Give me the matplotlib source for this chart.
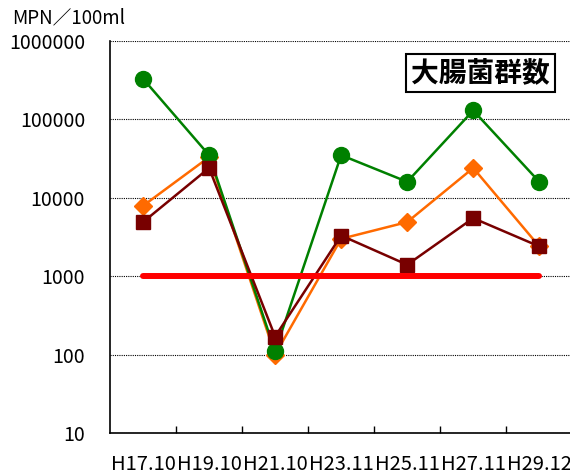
import matplotlib.pyplot as plt
from matplotlib.ticker import FixedLocator, NullFormatter

plt.rcParams['font.family'] = ['Noto Sans CJK JP', 'DejaVu Sans']

categories = ["H17.10", "H19.10", "H21.10", "H23.11", "H25.11", "H27.11", "H29.12"]
green_vals = [330000, 35000, 110, 35000, 16000, 130000, 16000]
orange_vals = [7900, 33000, 100, 3000, 4900, 24000, 2400]
darkred_vals = [4900, 24000, 170, 3300, 1400, 5500, 2400]
standard = [1000, 1000]
yticks = [10, 100, 1000, 10000, 100000, 1000000]

fig = plt.figure(figsize=(5.7, 4.76), dpi=100)
ax = fig.add_axes([0.193, 0.0903, 0.811, 0.8236])

x = list(range(len(categories)))
ax.plot(x, orange_vals, color="#ff6a00", linewidth=1.8, marker="D", markersize=9.5, zorder=3)
ax.plot(x, green_vals, color="#008000", linewidth=1.8, marker="o", markersize=11.5, zorder=4)
ax.plot(x, darkred_vals, color="#780000", linewidth=1.8, marker="s", markersize=10, zorder=5)
ax.plot([x[0], x[-1]], standard, color="#ff0000", linewidth=4.3, solid_capstyle="round", zorder=6)

ax.set_yscale("log")
ax.set_ylim(10, 1000000)
ax.set_xlim(-0.5, len(categories) - 0.5)
ax.yaxis.set_major_locator(FixedLocator(yticks))
ax.set_yticklabels([str(v) for v in yticks], fontsize=14)
ax.yaxis.set_minor_locator(FixedLocator([]))
ax.tick_params(axis="y", length=0, pad=18)
ax.grid(axis="y", color="black", linestyle=(0, (1, 1)), linewidth=0.8)

ax.set_xticks(x)
ax.set_xticklabels(categories, fontsize=14.5)
ax.xaxis.set_minor_locator(FixedLocator([i + 0.5 for i in x]))
ax.xaxis.set_minor_formatter(NullFormatter())
ax.tick_params(axis="x", which="major", length=0, pad=15)
ax.tick_params(axis="x", which="minor", direction="in", length=5, width=1)

ax.spines["top"].set_visible(False)
ax.spines["right"].set_visible(False)
ax.spines["left"].set_linewidth(1.2)
ax.spines["bottom"].set_linewidth(1.2)

fig.text(0.022, 0.962, "MPN／100ml", fontsize=13.5, va="center", ha="left")
ax.text(0.652, 0.918, "大腸菌群数", transform=ax.transAxes, fontsize=20, fontweight="bold",
        va="center", ha="left",
        bbox=dict(boxstyle="square,pad=0.18", facecolor="white", edgecolor="black", linewidth=1.5))

fig.savefig("out.png", dpi=100)
